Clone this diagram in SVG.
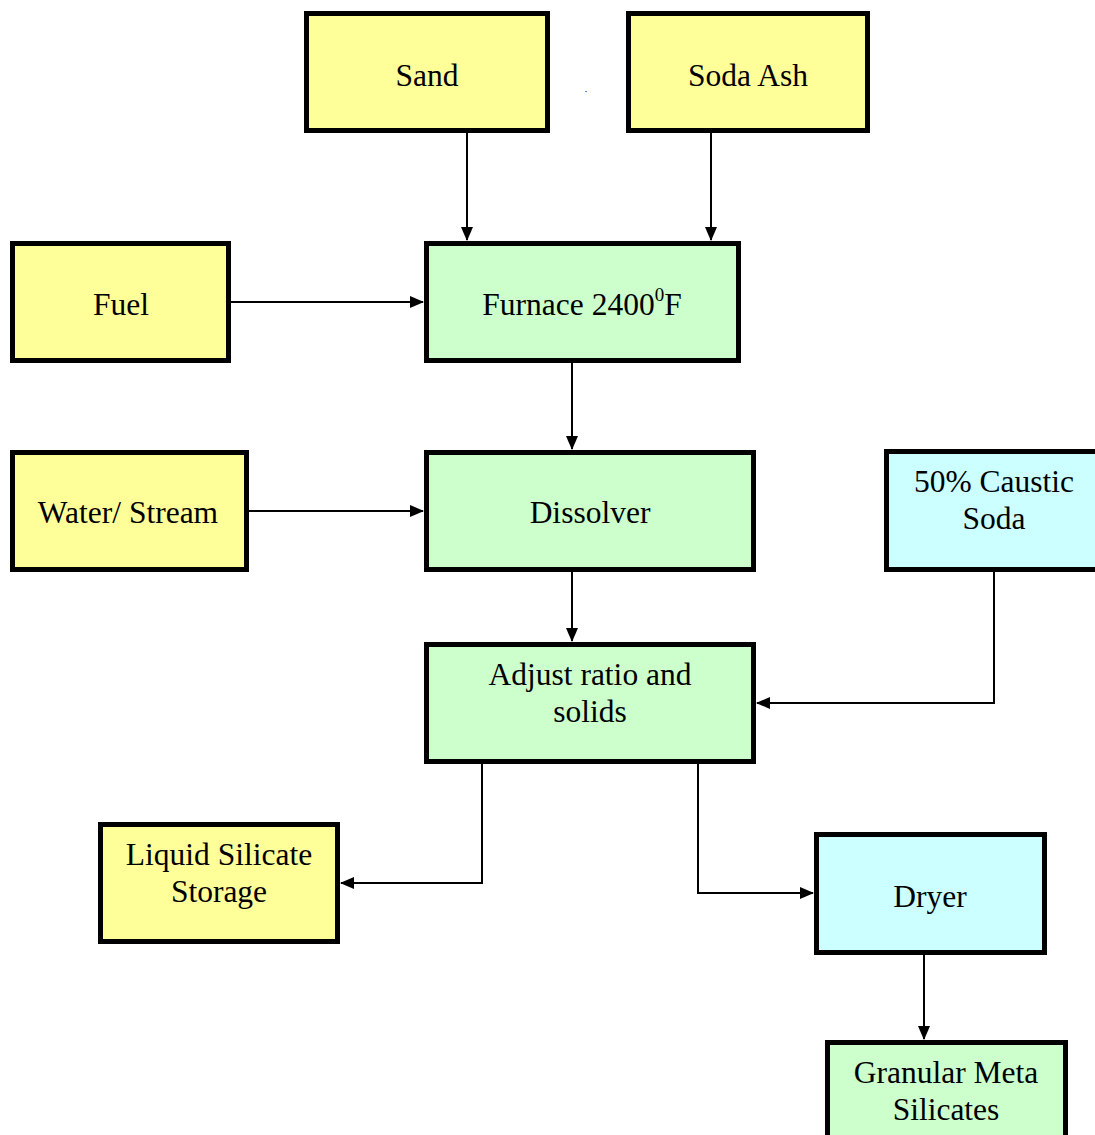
<svg xmlns="http://www.w3.org/2000/svg" width="1095" height="1135" viewBox="0 0 1095 1135">
<defs>
<marker id="ah" markerWidth="14" markerHeight="12" refX="13" refY="6" orient="auto" markerUnits="userSpaceOnUse">
<path d="M0,0 L14,6 L0,12 Z" fill="#000"/>
</marker>
<style>
.box{stroke:#000;stroke-width:5}
.y{fill:#FFFF99}
.g{fill:#CCFFCC}
.c{fill:#CCFFFF}
.t{font-family:"Liberation Serif","Times New Roman",serif;font-size:31.5px;fill:#000;text-anchor:middle}
.ln{fill:none;stroke:#000;stroke-width:2;marker-end:url(#ah)}
</style>
</defs>
<rect width="1095" height="1135" fill="#fff"/>
<g id="connectors">
<path class="ln" d="M467,133 V240"/>
<path class="ln" d="M711,133 V240"/>
<path class="ln" d="M231,302 H423"/>
<path class="ln" d="M572,363 V449"/>
<path class="ln" d="M249,511 H423"/>
<path class="ln" d="M572,572 V641"/>
<path class="ln" d="M994,572 V703 H757"/>
<path class="ln" d="M482,764 V883 H341"/>
<path class="ln" d="M698,764 V893 H813"/>
<path class="ln" d="M924,955 V1039"/>
</g>
<g id="sand"><rect class="box y" x="306.5" y="13.5" width="241" height="117"/><text class="t" x="427" y="86">Sand</text></g>
<g id="soda-ash"><rect class="box y" x="628.5" y="13.5" width="239" height="117"/><text class="t" x="748" y="86">Soda Ash</text></g>
<text class="t" x="586" y="92" style="font-size:10px">.</text>
<g id="fuel"><rect class="box y" x="12.5" y="243.5" width="216" height="117"/><text class="t" x="121" y="315">Fuel</text></g>
<g id="furnace"><rect class="box g" x="426.5" y="243.5" width="312" height="117"/><text class="t" x="582" y="315">Furnace 2400<tspan font-size="19" dy="-14">0</tspan><tspan dy="14">F</tspan></text></g>
<g id="water"><rect class="box y" x="12.5" y="452.5" width="234" height="117"/><text class="t" x="128" y="523">Water/ Stream</text></g>
<g id="dissolver"><rect class="box g" x="426.5" y="452.5" width="327" height="117"/><text class="t" x="590" y="523">Dissolver</text></g>
<g id="caustic"><rect class="box c" x="886.5" y="451.5" width="215" height="118"/><text class="t" x="994" y="492">50% Caustic</text><text class="t" x="994" y="529">Soda</text></g>
<g id="adjust"><rect class="box g" x="426.5" y="644.5" width="327" height="117"/><text class="t" x="590" y="685">Adjust ratio and</text><text class="t" x="590" y="722">solids</text></g>
<g id="liquid"><rect class="box y" x="100.5" y="824.5" width="237" height="117"/><text class="t" x="219" y="865">Liquid Silicate</text><text class="t" x="219" y="902">Storage</text></g>
<g id="dryer"><rect class="box c" x="816.5" y="834.5" width="228" height="118"/><text class="t" x="930" y="907">Dryer</text></g>
<g id="granular"><rect class="box g" x="827.5" y="1042.5" width="238" height="110"/><text class="t" x="946" y="1083">Granular Meta</text><text class="t" x="946" y="1120">Silicates</text></g>
</svg>
